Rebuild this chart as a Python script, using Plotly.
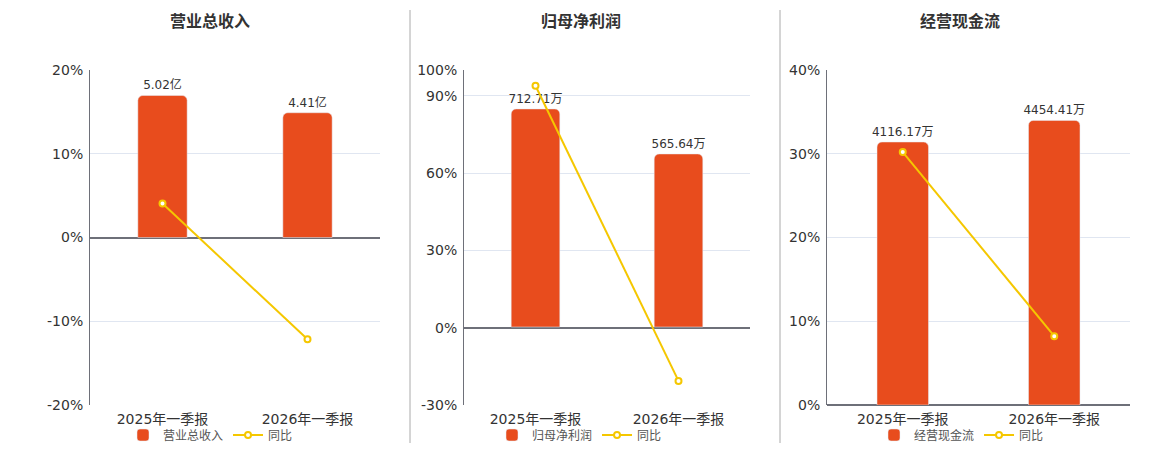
import plotly.graph_objects as go

# Daten
categories = ["2025年一季报", "2026年一季报"]

titles = ["营业总收入", "归母净利润", "经营现金流"]
bar_values = [
    [5.02, 4.41],
    [712.71, 565.64],
    [4116.17, 4454.41],
]
bar_units = ["亿", "万", "万"]
yoy_values = [
    [4.06, -12.15],
    [93.9, -20.64],
    [30.2, 8.22],
]

BAR_COLOR = "#E84C1D"
LINE_COLOR = "#F5C700"
FONT = "DejaVu Sans, Noto Sans CJK SC"

W, H = 1160, 450
OFF = 8  # Seitenrand des Browsers


def px_x(px):
    return (px - OFF) / W


def px_y(px):
    return 1 - (px - OFF) / H


x_domains = [(90, 380), (464, 750), (827, 1130)]
y_domain = [px_y(405), px_y(70)]
pct_ranges = [[-20, 20], [-30, 100], [0, 40]]
pct_ticks = [[-20, -10, 0, 10, 20], [-30, 0, 30, 60, 90, 100], [0, 10, 20, 30, 40]]
bar_ranges = [[-5.921, 5.921], [-255, 840], [0, 5243]]
title_x = [210, 581, 960]
legend_x = [123, 492, 874]

fig = go.Figure()
layout = {}

for i in range(3):
    n = i + 1
    ybar = f"y{2 * i + 1}"
    ypct = f"y{2 * i + 2}"
    xname = "x" if i == 0 else f"x{n}"
    lg = "legend" if i == 0 else f"legend{n}"

    fig.add_trace(go.Bar(
        x=categories, y=bar_values[i], name=titles[i],
        xaxis=xname, yaxis=ybar, legend=lg,
        marker=dict(color=BAR_COLOR, cornerradius=5),
        width=0.34,
        text=[f"{v:.2f}{bar_units[i]}" for v in bar_values[i]],
        textposition="outside", cliponaxis=False, constraintext="none",
        textfont=dict(size=12, color="#333", family=FONT),
    ))
    fig.add_trace(go.Scatter(
        x=categories, y=yoy_values[i], name="同比",
        xaxis=xname, yaxis=ypct, legend=lg,
        mode="lines+markers",
        line=dict(color=LINE_COLOR, width=2),
        marker=dict(color="white", size=6, line=dict(color=LINE_COLOR, width=2)),
    ))

    xa = "xaxis" if i == 0 else f"xaxis{n}"
    ya_bar = "yaxis" if i == 0 else f"yaxis{2 * i + 1}"
    ya_pct = f"yaxis{2 * i + 2}"
    x0, x1 = x_domains[i]
    layout[xa] = dict(
        domain=[px_x(x0), px_x(x1)], anchor=ybar,
        showgrid=False, showline=False, ticks="",
        ticklabelstandoff=4,
        tickfont=dict(size=14, color="#333", family=FONT),
        fixedrange=True,
    )
    layout[ya_bar] = dict(
        domain=y_domain, anchor=xname, range=bar_ranges[i],
        visible=False, showgrid=False, zeroline=False,
    )
    layout[ya_pct] = dict(
        overlaying=ybar, anchor=xname, side="left", range=pct_ranges[i],
        tickmode="array", tickvals=pct_ticks[i],
        ticktext=[f"{v}%" for v in pct_ticks[i]],
        showgrid=True, gridcolor="#E0E6F1", gridwidth=1,
        showline=True, linecolor="#6E7079", linewidth=1,
        zeroline=True, zerolinecolor="#6E7079", zerolinewidth=2,
        ticks="", ticklen=0, ticklabelstandoff=3,
        tickfont=dict(size=14, color="#333", family=FONT),
    )
    layout[lg] = dict(
        orientation="h", x=px_x(legend_x[i]), xanchor="left",
        y=px_y(435), yanchor="middle",
        font=dict(size=12, color="#555", family=FONT),
        bgcolor="rgba(0,0,0,0)", itemwidth=30,
        tracegroupgap=0,
    )

fig.update_layout(**layout)

for i in range(3):
    fig.add_annotation(
        text=f"<b>{titles[i]}</b>", xref="paper", yref="paper",
        x=px_x(title_x[i]), y=px_y(22), showarrow=False,
        xanchor="center", yanchor="middle",
        font=dict(size=16, color="#333", family=FONT),
    )

for sx in [410, 780]:
    fig.add_shape(
        type="line", xref="paper", yref="paper",
        x0=px_x(sx), x1=px_x(sx), y0=px_y(443), y1=px_y(10),
        line=dict(color="#AAAAAA", width=1),
    )

fig.update_layout(
    width=W, height=H,
    margin=dict(l=0, r=0, t=0, b=0, autoexpand=False),
    paper_bgcolor="white", plot_bgcolor="white",
    font=dict(family=FONT, color="#333"),
    bargap=0.66,
)

fig.write_html("out.html")
